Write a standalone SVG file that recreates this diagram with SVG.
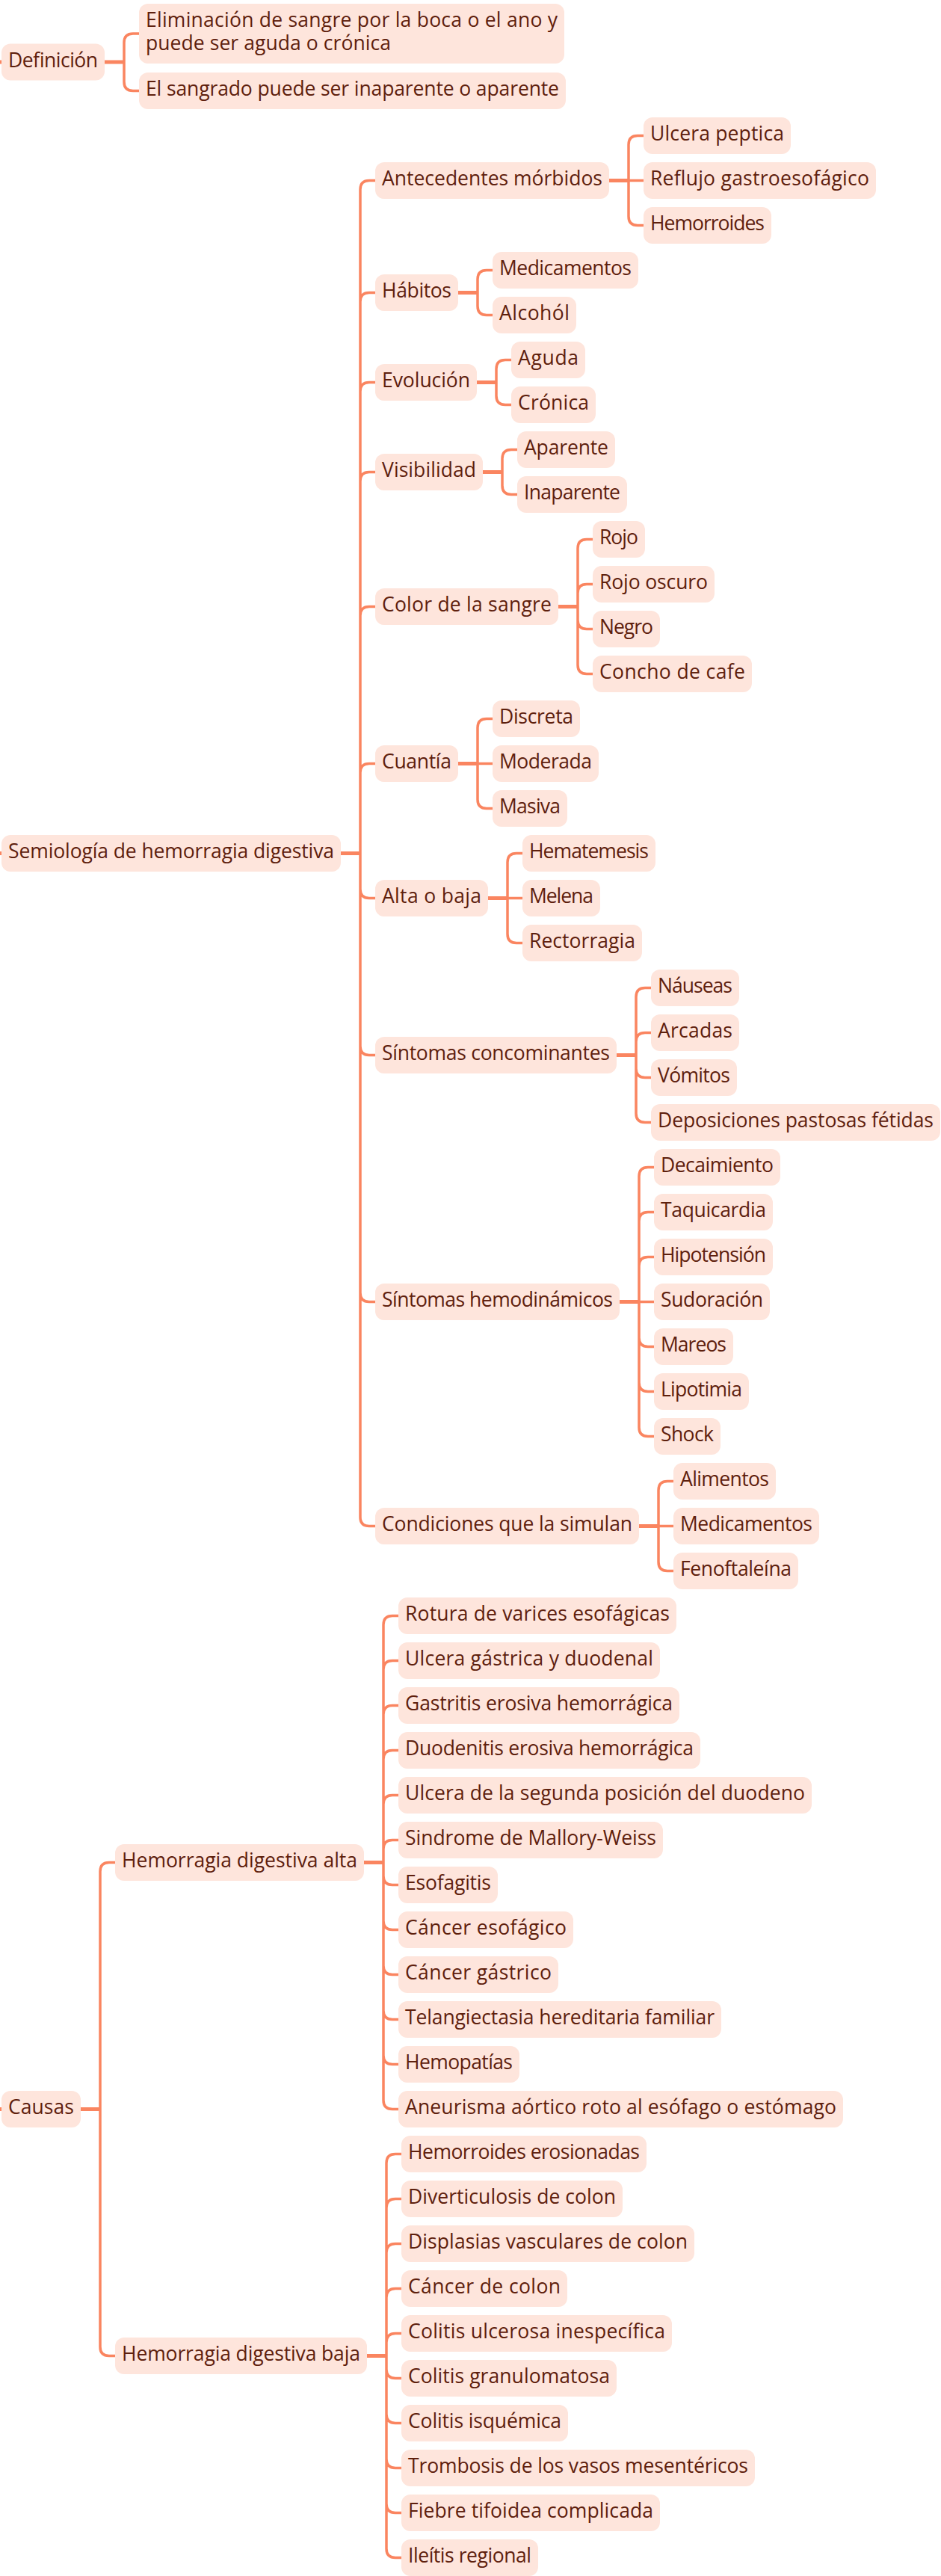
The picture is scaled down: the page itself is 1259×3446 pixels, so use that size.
<svg xmlns="http://www.w3.org/2000/svg" width="1259" height="3446" viewBox="0 0 1259 3446">
<style>
.b{fill:#FEE5DC}
.t{font-family:"Open Sans","Liberation Sans",sans-serif;font-size:26.5px;font-weight:500;fill:#5E200D}
.c{fill:none;stroke:#FA8560;stroke-width:3.5}
.s{fill:none;stroke:#FA8560;stroke-width:5}
</style>
<rect width="1259" height="3446" fill="#FFFFFF"/>
<g id="connectors">
<path class="s" d="M0 83H3M0 1141.5H3M0 2821.5H3M140 83H166M456 1141.5H482M815 241.5H841M613 391.5H639M638 511.5H664M646 631.5H672M747 811.5H773M613 1021.5H639M653 1201.5H679M825 1411.5H851M829 1741.5H855M855 2041.5H881M108 2821.5H134M487 2491.5H513M491 3151.5H517"/>
<path class="c" d="M166 83V57Q166 45 178 45H186M166 83V109.5Q166 121.5 178 121.5H186"/>
<path class="c" d="M482 1141.5V253.5Q482 241.5 494 241.5H502M482 1141.5V403.5Q482 391.5 494 391.5H502M482 1141.5V523.5Q482 511.5 494 511.5H502M482 1141.5V643.5Q482 631.5 494 631.5H502M482 1141.5V823.5Q482 811.5 494 811.5H502M482 1141.5V1033.5Q482 1021.5 494 1021.5H502M482 1141.5V1189.5Q482 1201.5 494 1201.5H502M482 1141.5V1399.5Q482 1411.5 494 1411.5H502M482 1141.5V1729.5Q482 1741.5 494 1741.5H502M482 1141.5V2029.5Q482 2041.5 494 2041.5H502"/>
<path class="c" d="M841 241.5H861M841 241.5V193.5Q841 181.5 853 181.5H861M841 241.5V289.5Q841 301.5 853 301.5H861"/>
<path class="c" d="M639 391.5V373.5Q639 361.5 651 361.5H659M639 391.5V409.5Q639 421.5 651 421.5H659"/>
<path class="c" d="M664 511.5V493.5Q664 481.5 676 481.5H684M664 511.5V529.5Q664 541.5 676 541.5H684"/>
<path class="c" d="M672 631.5V613.5Q672 601.5 684 601.5H692M672 631.5V649.5Q672 661.5 684 661.5H692"/>
<path class="c" d="M773 811.5V733.5Q773 721.5 785 721.5H793M773 811.5V793.5Q773 781.5 785 781.5H793M773 811.5V829.5Q773 841.5 785 841.5H793M773 811.5V889.5Q773 901.5 785 901.5H793"/>
<path class="c" d="M639 1021.5H659M639 1021.5V973.5Q639 961.5 651 961.5H659M639 1021.5V1069.5Q639 1081.5 651 1081.5H659"/>
<path class="c" d="M679 1201.5H699M679 1201.5V1153.5Q679 1141.5 691 1141.5H699M679 1201.5V1249.5Q679 1261.5 691 1261.5H699"/>
<path class="c" d="M851 1411.5V1333.5Q851 1321.5 863 1321.5H871M851 1411.5V1393.5Q851 1381.5 863 1381.5H871M851 1411.5V1429.5Q851 1441.5 863 1441.5H871M851 1411.5V1489.5Q851 1501.5 863 1501.5H871"/>
<path class="c" d="M855 1741.5H875M855 1741.5V1573.5Q855 1561.5 867 1561.5H875M855 1741.5V1633.5Q855 1621.5 867 1621.5H875M855 1741.5V1693.5Q855 1681.5 867 1681.5H875M855 1741.5V1789.5Q855 1801.5 867 1801.5H875M855 1741.5V1849.5Q855 1861.5 867 1861.5H875M855 1741.5V1909.5Q855 1921.5 867 1921.5H875"/>
<path class="c" d="M881 2041.5H901M881 2041.5V1993.5Q881 1981.5 893 1981.5H901M881 2041.5V2089.5Q881 2101.5 893 2101.5H901"/>
<path class="c" d="M134 2821.5V2503.5Q134 2491.5 146 2491.5H154M134 2821.5V3139.5Q134 3151.5 146 3151.5H154"/>
<path class="c" d="M513 2491.5V2173.5Q513 2161.5 525 2161.5H533M513 2491.5V2233.5Q513 2221.5 525 2221.5H533M513 2491.5V2293.5Q513 2281.5 525 2281.5H533M513 2491.5V2353.5Q513 2341.5 525 2341.5H533M513 2491.5V2413.5Q513 2401.5 525 2401.5H533M513 2491.5V2473.5Q513 2461.5 525 2461.5H533M513 2491.5V2509.5Q513 2521.5 525 2521.5H533M513 2491.5V2569.5Q513 2581.5 525 2581.5H533M513 2491.5V2629.5Q513 2641.5 525 2641.5H533M513 2491.5V2689.5Q513 2701.5 525 2701.5H533M513 2491.5V2749.5Q513 2761.5 525 2761.5H533M513 2491.5V2809.5Q513 2821.5 525 2821.5H533"/>
<path class="c" d="M517 3151.5V2893.5Q517 2881.5 529 2881.5H537M517 3151.5V2953.5Q517 2941.5 529 2941.5H537M517 3151.5V3013.5Q517 3001.5 529 3001.5H537M517 3151.5V3073.5Q517 3061.5 529 3061.5H537M517 3151.5V3133.5Q517 3121.5 529 3121.5H537M517 3151.5V3169.5Q517 3181.5 529 3181.5H537M517 3151.5V3229.5Q517 3241.5 529 3241.5H537M517 3151.5V3289.5Q517 3301.5 529 3301.5H537M517 3151.5V3349.5Q517 3361.5 529 3361.5H537M517 3151.5V3409.5Q517 3421.5 529 3421.5H537"/>
</g>
<g id="definicion"><rect class="b" x="2" y="58.5" width="138" height="49" rx="12"/><text class="t" x="11" y="89.5" textLength="120">Definición</text></g>
<g id="def-1"><rect class="b" x="186" y="5" width="569" height="80" rx="12"/><text class="t"><tspan x="195" y="36" textLength="551">Eliminación de sangre por la boca o el ano y</tspan><tspan x="195" y="67" textLength="328">puede ser aguda o crónica</tspan></text></g>
<g id="def-2"><rect class="b" x="186" y="97" width="571" height="49" rx="12"/><text class="t" x="195" y="128" textLength="553">El sangrado puede ser inaparente o aparente</text></g>

<g id="semiologia"><rect class="b" x="2" y="1117" width="454" height="49" rx="12"/><text class="t" x="11" y="1148" textLength="436">Semiología de hemorragia digestiva</text></g>
<g id="antecedentes"><rect class="b" x="502" y="217" width="313" height="49" rx="12"/><text class="t" x="511" y="248" textLength="295">Antecedentes mórbidos</text></g>
<g id="ulcera-peptica"><rect class="b" x="861" y="157" width="197" height="49" rx="12"/><text class="t" x="870" y="188" textLength="179">Ulcera peptica</text></g>
<g id="reflujo"><rect class="b" x="861" y="217" width="311" height="49" rx="12"/><text class="t" x="870" y="248" textLength="293">Reflujo gastroesofágico</text></g>
<g id="hemorroides"><rect class="b" x="861" y="277" width="171" height="49" rx="12"/><text class="t" x="870" y="308" textLength="153">Hemorroides</text></g>
<g id="habitos"><rect class="b" x="502" y="367" width="111" height="49" rx="12"/><text class="t" x="511" y="398" textLength="93">Hábitos</text></g>
<g id="medicamentos-1"><rect class="b" x="659" y="337" width="195" height="49" rx="12"/><text class="t" x="668" y="368" textLength="177">Medicamentos</text></g>
<g id="alcohol"><rect class="b" x="659" y="397" width="112" height="49" rx="12"/><text class="t" x="668" y="428" textLength="94">Alcohól</text></g>
<g id="evolucion"><rect class="b" x="502" y="487" width="136" height="49" rx="12"/><text class="t" x="511" y="518" textLength="118">Evolución</text></g>
<g id="aguda"><rect class="b" x="684" y="457" width="99" height="49" rx="12"/><text class="t" x="693" y="488" textLength="81">Aguda</text></g>
<g id="cronica"><rect class="b" x="684" y="517" width="113" height="49" rx="12"/><text class="t" x="693" y="548" textLength="95">Crónica</text></g>
<g id="visibilidad"><rect class="b" x="502" y="607" width="144" height="49" rx="12"/><text class="t" x="511" y="638" textLength="126">Visibilidad</text></g>
<g id="aparente"><rect class="b" x="692" y="577" width="131" height="49" rx="12"/><text class="t" x="701" y="608" textLength="113">Aparente</text></g>
<g id="inaparente"><rect class="b" x="692" y="637" width="147" height="49" rx="12"/><text class="t" x="701" y="668" textLength="129">Inaparente</text></g>
<g id="color"><rect class="b" x="502" y="787" width="245" height="49" rx="12"/><text class="t" x="511" y="818" textLength="227">Color de la sangre</text></g>
<g id="rojo"><rect class="b" x="793" y="697" width="70" height="49" rx="12"/><text class="t" x="802" y="728" textLength="52">Rojo</text></g>
<g id="rojo-oscuro"><rect class="b" x="793" y="757" width="163" height="49" rx="12"/><text class="t" x="802" y="788" textLength="145">Rojo oscuro</text></g>
<g id="negro"><rect class="b" x="793" y="817" width="90" height="49" rx="12"/><text class="t" x="802" y="848" textLength="72">Negro</text></g>
<g id="concho"><rect class="b" x="793" y="877" width="213" height="49" rx="12"/><text class="t" x="802" y="908" textLength="195">Concho de cafe</text></g>
<g id="cuantia"><rect class="b" x="502" y="997" width="111" height="49" rx="12"/><text class="t" x="511" y="1028" textLength="93">Cuantía</text></g>
<g id="discreta"><rect class="b" x="659" y="937" width="117" height="49" rx="12"/><text class="t" x="668" y="968" textLength="99">Discreta</text></g>
<g id="moderada"><rect class="b" x="659" y="997" width="142" height="49" rx="12"/><text class="t" x="668" y="1028" textLength="124">Moderada</text></g>
<g id="masiva"><rect class="b" x="659" y="1057" width="100" height="49" rx="12"/><text class="t" x="668" y="1088" textLength="82">Masiva</text></g>
<g id="alta-baja"><rect class="b" x="502" y="1177" width="151" height="49" rx="12"/><text class="t" x="511" y="1208" textLength="133">Alta o baja</text></g>
<g id="hematemesis"><rect class="b" x="699" y="1117" width="178" height="49" rx="12"/><text class="t" x="708" y="1148" textLength="160">Hematemesis</text></g>
<g id="melena"><rect class="b" x="699" y="1177" width="104" height="49" rx="12"/><text class="t" x="708" y="1208" textLength="86">Melena</text></g>
<g id="rectorragia"><rect class="b" x="699" y="1237" width="160" height="49" rx="12"/><text class="t" x="708" y="1268" textLength="142">Rectorragia</text></g>
<g id="sintomas-conc"><rect class="b" x="502" y="1387" width="323" height="49" rx="12"/><text class="t" x="511" y="1418" textLength="305">Síntomas concominantes</text></g>
<g id="nauseas"><rect class="b" x="871" y="1297" width="118" height="49" rx="12"/><text class="t" x="880" y="1328" textLength="100">Náuseas</text></g>
<g id="arcadas"><rect class="b" x="871" y="1357" width="118" height="49" rx="12"/><text class="t" x="880" y="1388" textLength="100">Arcadas</text></g>
<g id="vomitos"><rect class="b" x="871" y="1417" width="115" height="49" rx="12"/><text class="t" x="880" y="1448" textLength="97">Vómitos</text></g>
<g id="deposiciones"><rect class="b" x="871" y="1477" width="387" height="49" rx="12"/><text class="t" x="880" y="1508" textLength="369">Deposiciones pastosas fétidas</text></g>
<g id="sintomas-hemo"><rect class="b" x="502" y="1717" width="327" height="49" rx="12"/><text class="t" x="511" y="1748" textLength="309">Síntomas hemodinámicos</text></g>
<g id="decaimiento"><rect class="b" x="875" y="1537" width="169" height="49" rx="12"/><text class="t" x="884" y="1568" textLength="151">Decaimiento</text></g>
<g id="taquicardia"><rect class="b" x="875" y="1597" width="159" height="49" rx="12"/><text class="t" x="884" y="1628" textLength="141">Taquicardia</text></g>
<g id="hipotension"><rect class="b" x="875" y="1657" width="159" height="49" rx="12"/><text class="t" x="884" y="1688" textLength="141">Hipotensión</text></g>
<g id="sudoracion"><rect class="b" x="875" y="1717" width="155" height="49" rx="12"/><text class="t" x="884" y="1748" textLength="137">Sudoración</text></g>
<g id="mareos"><rect class="b" x="875" y="1777" width="106" height="49" rx="12"/><text class="t" x="884" y="1808" textLength="88">Mareos</text></g>
<g id="lipotimia"><rect class="b" x="875" y="1837" width="127" height="49" rx="12"/><text class="t" x="884" y="1868" textLength="109">Lipotimia</text></g>
<g id="shock"><rect class="b" x="875" y="1897" width="89" height="49" rx="12"/><text class="t" x="884" y="1928" textLength="71">Shock</text></g>
<g id="condiciones"><rect class="b" x="502" y="2017" width="353" height="49" rx="12"/><text class="t" x="511" y="2048" textLength="335">Condiciones que la simulan</text></g>
<g id="alimentos"><rect class="b" x="901" y="1957" width="137" height="49" rx="12"/><text class="t" x="910" y="1988" textLength="119">Alimentos</text></g>
<g id="medicamentos-2"><rect class="b" x="901" y="2017" width="195" height="49" rx="12"/><text class="t" x="910" y="2048" textLength="177">Medicamentos</text></g>
<g id="fenoftaleina"><rect class="b" x="901" y="2077" width="167" height="49" rx="12"/><text class="t" x="910" y="2108" textLength="149">Fenoftaleína</text></g>

<g id="causas"><rect class="b" x="2" y="2797" width="106" height="49" rx="12"/><text class="t" x="11" y="2828" textLength="88">Causas</text></g>
<g id="hda"><rect class="b" x="154" y="2467" width="333" height="49" rx="12"/><text class="t" x="163" y="2498" textLength="315">Hemorragia digestiva alta</text></g>
<g id="hda-1"><rect class="b" x="533" y="2137" width="372" height="49" rx="12"/><text class="t" x="542" y="2168" textLength="354">Rotura de varices esofágicas</text></g>
<g id="hda-2"><rect class="b" x="533" y="2197" width="350" height="49" rx="12"/><text class="t" x="542" y="2228" textLength="332">Ulcera gástrica y duodenal</text></g>
<g id="hda-3"><rect class="b" x="533" y="2257" width="376" height="49" rx="12"/><text class="t" x="542" y="2288" textLength="358">Gastritis erosiva hemorrágica</text></g>
<g id="hda-4"><rect class="b" x="533" y="2317" width="404" height="49" rx="12"/><text class="t" x="542" y="2348" textLength="386">Duodenitis erosiva hemorrágica</text></g>
<g id="hda-5"><rect class="b" x="533" y="2377" width="553" height="49" rx="12"/><text class="t" x="542" y="2408" textLength="535">Ulcera de la segunda posición del duodeno</text></g>
<g id="hda-6"><rect class="b" x="533" y="2437" width="354" height="49" rx="12"/><text class="t" x="542" y="2468" textLength="336">Sindrome de Mallory-Weiss</text></g>
<g id="hda-7"><rect class="b" x="533" y="2497" width="133" height="49" rx="12"/><text class="t" x="542" y="2528" textLength="115">Esofagitis</text></g>
<g id="hda-8"><rect class="b" x="533" y="2557" width="234" height="49" rx="12"/><text class="t" x="542" y="2588" textLength="216">Cáncer esofágico</text></g>
<g id="hda-9"><rect class="b" x="533" y="2617" width="214" height="49" rx="12"/><text class="t" x="542" y="2648" textLength="196">Cáncer gástrico</text></g>
<g id="hda-10"><rect class="b" x="533" y="2677" width="432" height="49" rx="12"/><text class="t" x="542" y="2708" textLength="414">Telangiectasia hereditaria familiar</text></g>
<g id="hda-11"><rect class="b" x="533" y="2737" width="162" height="49" rx="12"/><text class="t" x="542" y="2768" textLength="144">Hemopatías</text></g>
<g id="hda-12"><rect class="b" x="533" y="2797" width="595" height="49" rx="12"/><text class="t" x="542" y="2828" textLength="577">Aneurisma aórtico roto al esófago o estómago</text></g>
<g id="hdb"><rect class="b" x="154" y="3127" width="337" height="49" rx="12"/><text class="t" x="163" y="3158" textLength="319">Hemorragia digestiva baja</text></g>
<g id="hdb-1"><rect class="b" x="537" y="2857" width="328" height="49" rx="12"/><text class="t" x="546" y="2888" textLength="310">Hemorroides erosionadas</text></g>
<g id="hdb-2"><rect class="b" x="537" y="2917" width="296" height="49" rx="12"/><text class="t" x="546" y="2948" textLength="278">Diverticulosis de colon</text></g>
<g id="hdb-3"><rect class="b" x="537" y="2977" width="392" height="49" rx="12"/><text class="t" x="546" y="3008" textLength="374">Displasias vasculares de colon</text></g>
<g id="hdb-4"><rect class="b" x="537" y="3037" width="222" height="49" rx="12"/><text class="t" x="546" y="3068" textLength="204">Cáncer de colon</text></g>
<g id="hdb-5"><rect class="b" x="537" y="3097" width="362" height="49" rx="12"/><text class="t" x="546" y="3128" textLength="344">Colitis ulcerosa inespecífica</text></g>
<g id="hdb-6"><rect class="b" x="537" y="3157" width="288" height="49" rx="12"/><text class="t" x="546" y="3188" textLength="270">Colitis granulomatosa</text></g>
<g id="hdb-7"><rect class="b" x="537" y="3217" width="223" height="49" rx="12"/><text class="t" x="546" y="3248" textLength="205">Colitis isquémica</text></g>
<g id="hdb-8"><rect class="b" x="537" y="3277" width="473" height="49" rx="12"/><text class="t" x="546" y="3308" textLength="455">Trombosis de los vasos mesentéricos</text></g>
<g id="hdb-9"><rect class="b" x="537" y="3337" width="346" height="49" rx="12"/><text class="t" x="546" y="3368" textLength="328">Fiebre tifoidea complicada</text></g>
<g id="hdb-10"><rect class="b" x="537" y="3397" width="183" height="49" rx="12"/><text class="t" x="546" y="3428" textLength="165">Ileítis regional</text></g>
</svg>
